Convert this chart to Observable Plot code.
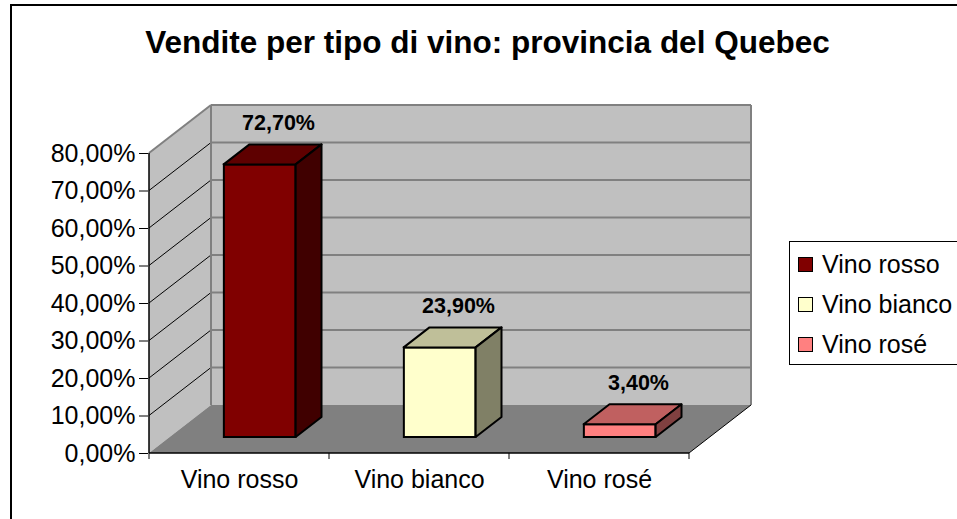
<!DOCTYPE html>
<html><head><meta charset="utf-8">
<script src="https://cdn.jsdelivr.net/npm/d3@7"></script>
<script src="https://cdn.jsdelivr.net/npm/@observablehq/plot@0.6"></script>
<style>
html,body{margin:0;padding:0;width:957px;height:519px;overflow:hidden;background:#fff;font-family:"Liberation Sans",Arial,sans-serif;}
#wrap{position:relative;width:957px;height:519px;overflow:hidden;}
#frame{position:absolute;left:10px;top:4px;width:1000px;height:600px;border:2px solid #000;box-sizing:border-box;}
#chart{position:absolute;left:0;top:0;}
#title{position:absolute;left:0;top:27px;width:975px;text-align:center;font-weight:bold;font-size:31.5px;line-height:30px;white-space:nowrap;}
#legend{position:absolute;left:789px;top:241px;width:220px;height:124px;border:1px solid #000;box-sizing:border-box;}
.row{position:absolute;left:8px;height:30px;display:flex;align-items:center;font-size:25px;white-space:nowrap;}
.sw{width:13px;height:13px;border:1.5px solid #000;margin-right:9px;flex:none;}
</style></head>
<body><div id="wrap"><div id="frame"></div><div id="chart"></div><div id="title"></div><div id="legend"></div></div>
<script>
const categories = ["Vino rosso", "Vino bianco", "Vino rosé"];
const values = [72.7, 23.9, 3.4];
const valueLabels = ["72,70%", "23,90%", "3,40%"];
const yTicks = [0, 10, 20, 30, 40, 50, 60, 70, 80];
const frontColors = ["#800000", "#FFFFCC", "#FF8080"];
const topColors = ["#5E0000", "#BFBF99", "#C06060"];
const sideColors = ["#400000", "#808066", "#804040"];
const titleText = "Vendite per tipo di vino: provincia del Quebec";

const data = categories.map((c, i) => ({cat: c, value: values[i], label: valueLabels[i], front: frontColors[i], top: topColors[i], side: sideColors[i]}));

const W = 957, H = 519, mL = 148, mR = 267, mT = 153, mB = 66;
const DX = 62, DY = -48;      // wall depth projection
const F0 = 1/3, F1 = 0.75;    // bar depth span (fraction of floor depth)
const BAR = 0.4;              // bar width as fraction of band
const bandPx = (W - mL - mR) / categories.length;
const inset = bandPx * (1 - BAR) / 2;

function sc(s) { return typeof s.x === "function" ? s : s.scales; }
function bwOf(x) { return typeof x.bandwidth === "function" ? x.bandwidth() : x.bandwidth; }
function pts(p) { return p.map(q => q.join(",")).join(" "); }

function walls(index, scales) {
  const {x, y} = sc(scales);
  const bw = bwOf(x);
  const x0 = x(categories[0]), x1 = x(categories[categories.length - 1]) + bw;
  const y0 = y(0), yt = y(yTicks[yTicks.length - 1]);
  const g = d3.create("svg:g");
  const poly = (p, fill) => g.append("polygon").attr("points", pts(p)).attr("fill", fill);
  const line = (a, b, c, d, col, w) => g.append("line").attr("x1", a).attr("y1", b).attr("x2", c).attr("y2", d).attr("stroke", col).attr("stroke-width", w);
  poly([[x0, y0], [x0, yt], [x0 + DX, yt + DY], [x0 + DX, y0 + DY]], "#C0C0C0");
  poly([[x0 + DX, yt + DY], [x1 + DX, yt + DY], [x1 + DX, y0 + DY], [x0 + DX, y0 + DY]], "#C0C0C0");
  poly([[x0, y0], [x1, y0], [x1 + DX, y0 + DY], [x0 + DX, y0 + DY]], "#808080");
  for (const t of yTicks.slice(1, -1)) {
    const yy = y(t);
    line(x0 + DX, yy + DY, x1 + DX, yy + DY, "#808080", 2);
    line(x0, yy, x0 + DX, yy + DY, "#000", 1);
  }
  line(x0 + DX, yt + DY, x1 + DX, yt + DY, "#808080", 2);
  line(x0, yt, x0 + DX, yt + DY, "#808080", 2);
  line(x0 + DX, yt + DY, x0 + DX, y0 + DY, "#808080", 2);
  line(x1 + DX, yt + DY, x1 + DX, y0 + DY, "#808080", 2);
  line(x1, y0, x1 + DX, y0 + DY, "#000", 1);
  line(x0, yt, x0, y0, "#000", 1.5);
  line(x0, y0, x1, y0, "#000", 1.5);
  const bounds = categories.map(c => x(c)).concat([x1]);
  for (const b of bounds) line(b, y0, b, y0 + 6, "#000", 1);
  return g.node();
}

function barFaces(index, scales) {
  const {x, y} = sc(scales);
  const bw = bwOf(x);
  const g = d3.create("svg:g").attr("stroke", "#000").attr("stroke-width", 2).attr("stroke-linejoin", "round");
  const ddx = (F1 - F0) * DX, ddy = (F1 - F0) * DY;
  for (const d of data) {
    const w = bw * BAR;
    const bx = x(d.cat) + bw / 2 - w / 2 + F0 * DX;
    const yb = y(0) + F0 * DY, yp = y(d.value) + F0 * DY;
    g.append("polygon").attr("fill", d.top)
      .attr("points", pts([[bx, yp], [bx + w, yp], [bx + w + ddx, yp + ddy], [bx + ddx, yp + ddy]]));
    g.append("polygon").attr("fill", d.side)
      .attr("points", pts([[bx + w, yp], [bx + w + ddx, yp + ddy], [bx + w + ddx, yb + ddy], [bx + w, yb]]));
  }
  return g.node();
}

const chart = Plot.plot({
  width: W, height: H,
  marginLeft: mL, marginRight: mR, marginTop: mT, marginBottom: mB,
  style: {fontFamily: '"Liberation Sans", Arial, sans-serif', fontSize: "25px", color: "#000", background: "transparent", overflow: "visible"},
  x: {domain: categories, padding: 0, label: null, tickSize: 0, tickPadding: 17},
  y: {domain: [0, 80], ticks: yTicks, tickFormat: d => d.toFixed(2).replace(".", ",") + "%", tickSize: 9, tickPadding: 4, label: null},
  marks: [
    walls,
    Plot.barY(data, {x: "cat", y: "value", fill: "front", stroke: "#000", strokeWidth: 2, insetLeft: inset, insetRight: inset, dx: F0 * DX, dy: F0 * DY}),
    barFaces,
    Plot.text(data, {x: "cat", y: "value", text: "label", dx: 39, dy: -58, fontWeight: "bold", fontSize: 21.5})
  ]
});
document.getElementById("chart").appendChild(chart);
document.getElementById("title").textContent = titleText;

const legend = document.getElementById("legend");
categories.forEach((c, i) => {
  const r = document.createElement("div");
  r.className = "row";
  r.style.top = (7 + i * 40) + "px";
  const s = document.createElement("span");
  s.className = "sw"; s.style.background = frontColors[i];
  const t = document.createElement("span");
  t.textContent = c;
  r.appendChild(s); r.appendChild(t);
  legend.appendChild(r);
});
</script></body></html>
